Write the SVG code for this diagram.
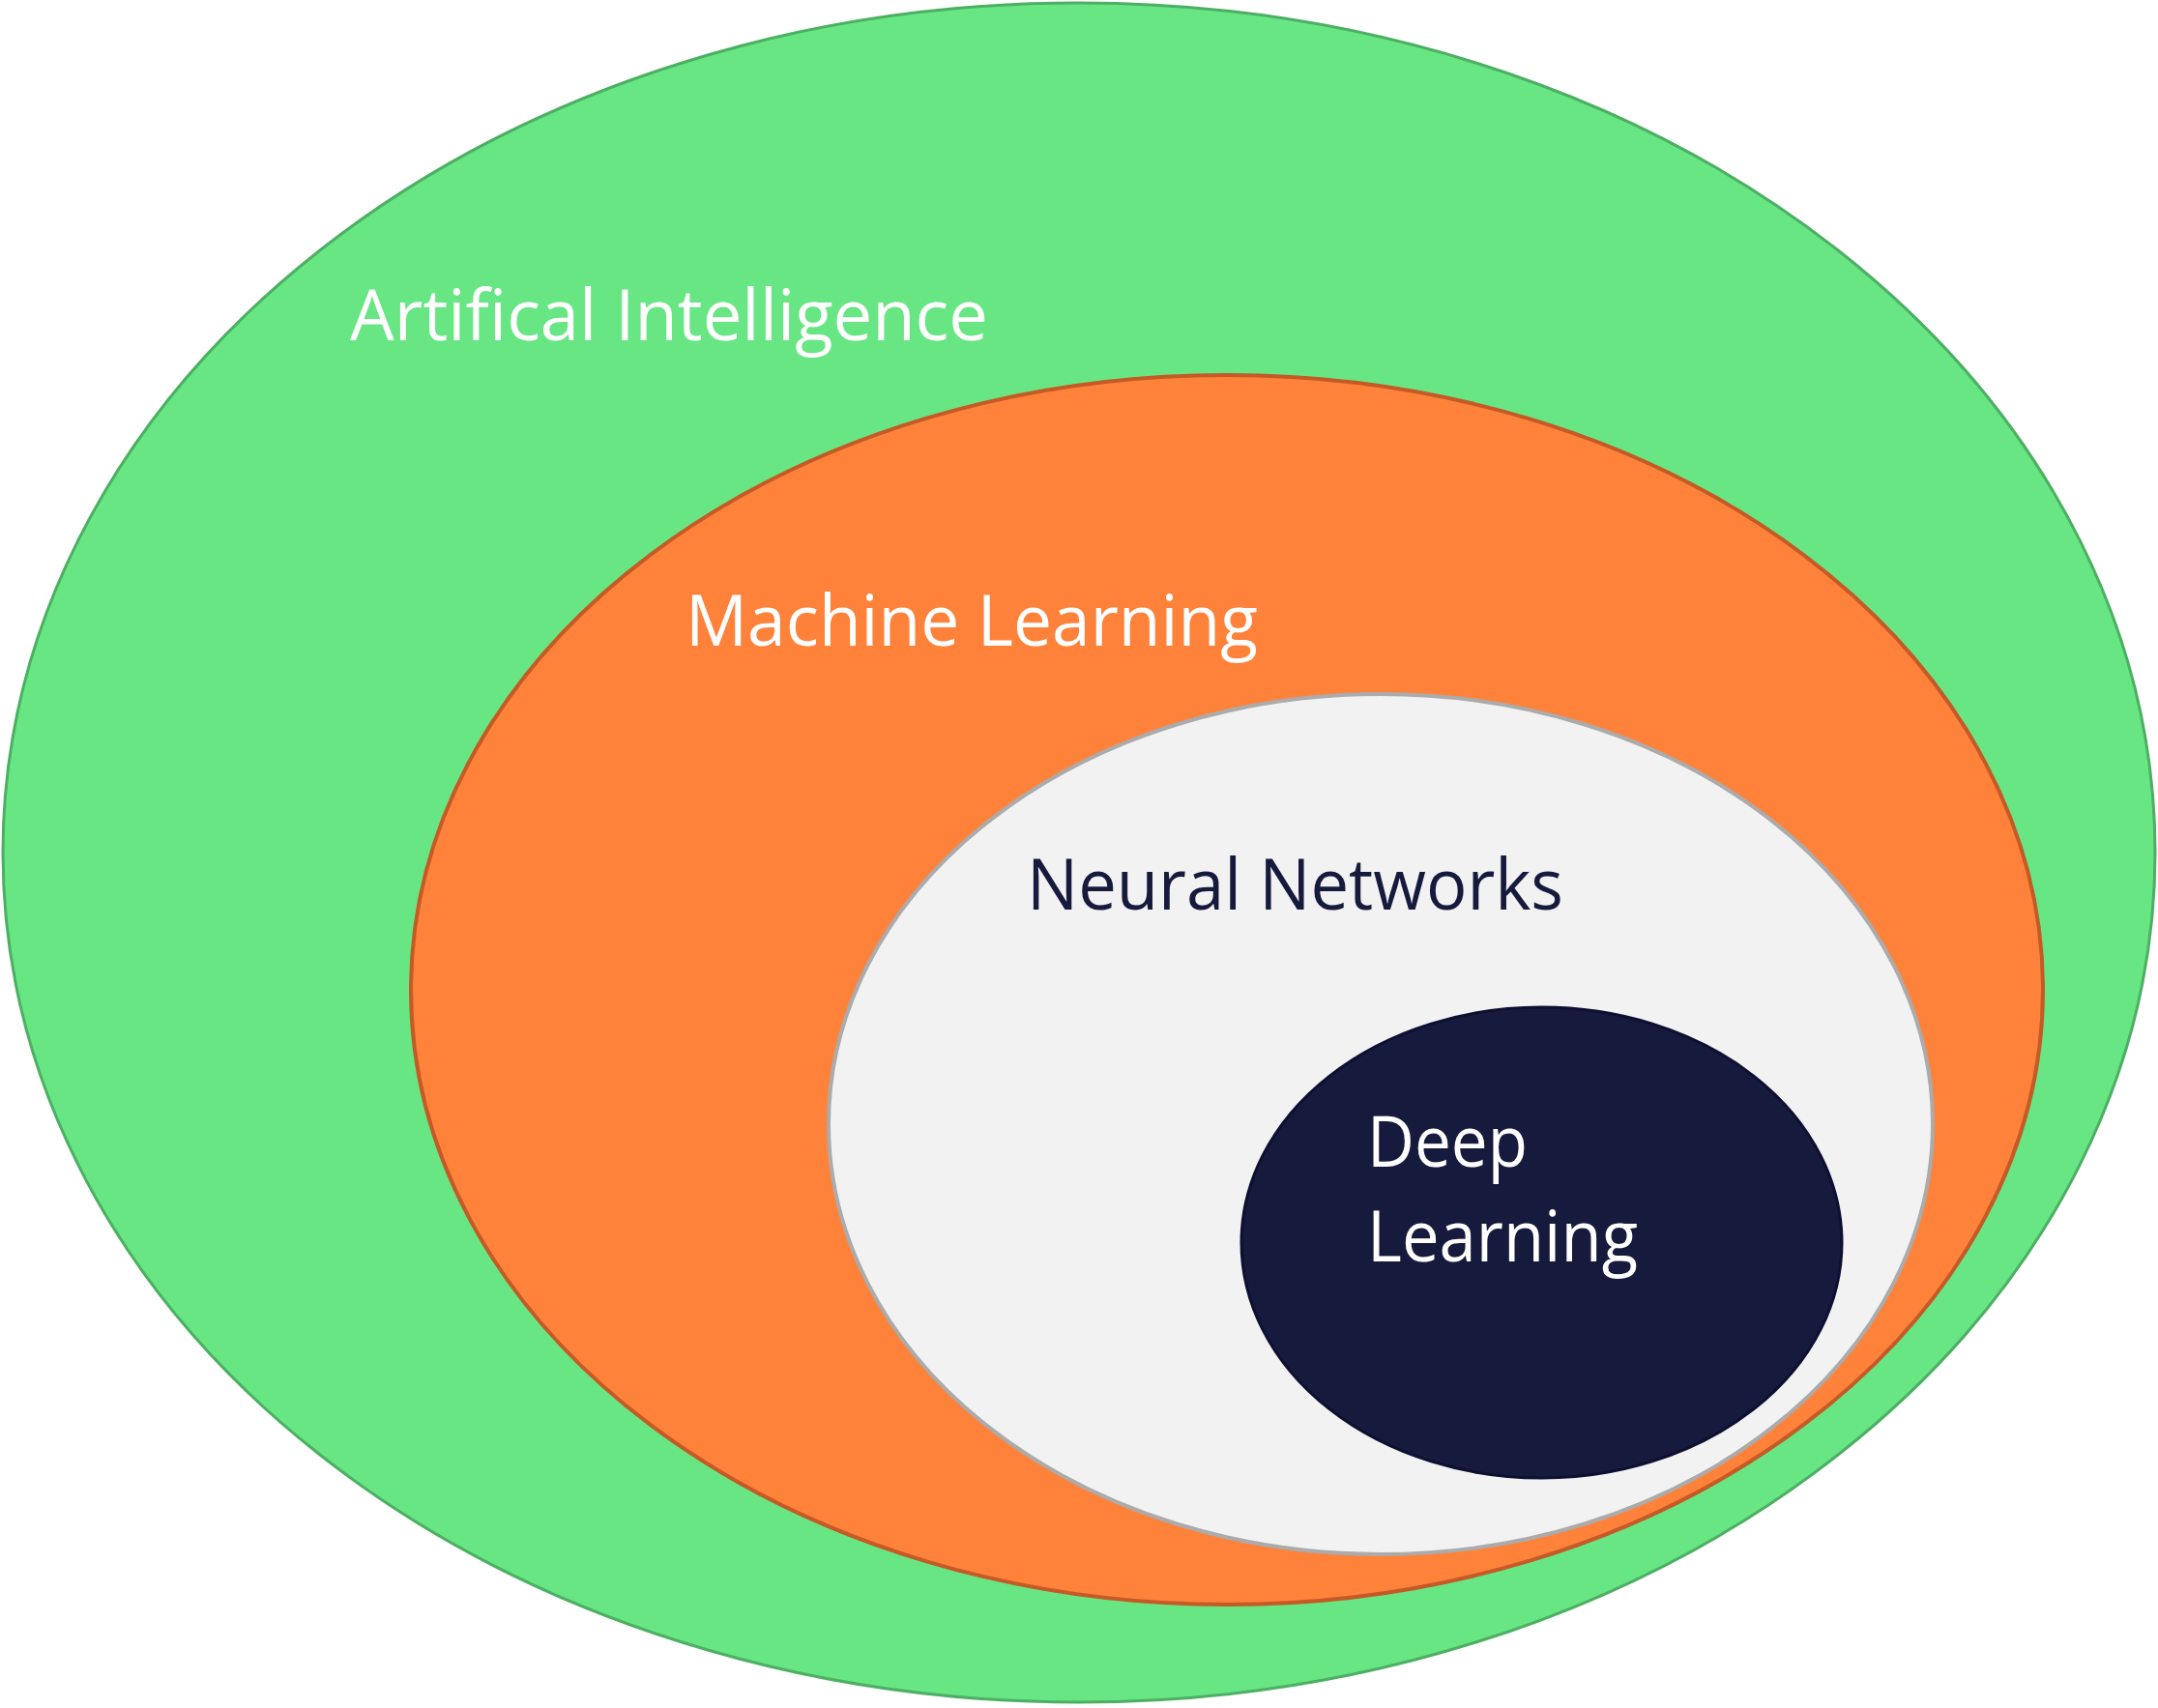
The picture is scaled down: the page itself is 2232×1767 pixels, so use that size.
<svg xmlns="http://www.w3.org/2000/svg" width="2232" height="1767" viewBox="0 0 2232 1767">
<style>
.lbl{font-family:"Open Sans","Noto Sans","Liberation Sans",sans-serif;font-size:73px}
.w{fill:#ffffff}
.d{fill:#161A3C}
</style>
<rect x="0" y="0" width="2232" height="1767" fill="#ffffff"/>
<g id="ai">
<ellipse cx="1116" cy="882" rx="1113" ry="879" fill="#68E683" stroke="#4CAF63" stroke-width="3"/>
<text class="lbl w" x="362" y="352" textLength="660" lengthAdjust="spacingAndGlyphs">Artifical Intelligence</text>
</g>
<g id="ml">
<ellipse cx="1269" cy="1024" rx="844" ry="636" fill="#FF823B" stroke="#C55A26" stroke-width="4"/>
<text class="lbl w" x="709" y="668" textLength="592" lengthAdjust="spacingAndGlyphs">Machine Learning</text>
</g>
<g id="nn">
<ellipse cx="1428" cy="1163" rx="571" ry="445" fill="#F2F2F2" stroke="#ABABAB" stroke-width="4"/>
<text class="lbl d" x="1062" y="941" textLength="555" lengthAdjust="spacingAndGlyphs">Neural Networks</text>
</g>
<g id="dl">
<ellipse cx="1594.5" cy="1285.5" rx="310.5" ry="243.5" fill="#161A3C" stroke="#0D1030" stroke-width="3"/>
<text class="lbl w" x="1414" y="1207" textLength="166" lengthAdjust="spacingAndGlyphs">Deep</text>
<text class="lbl w" x="1414" y="1305" textLength="280" lengthAdjust="spacingAndGlyphs">Learning</text>
</g>
<g id="connectors"></g>
</svg>
